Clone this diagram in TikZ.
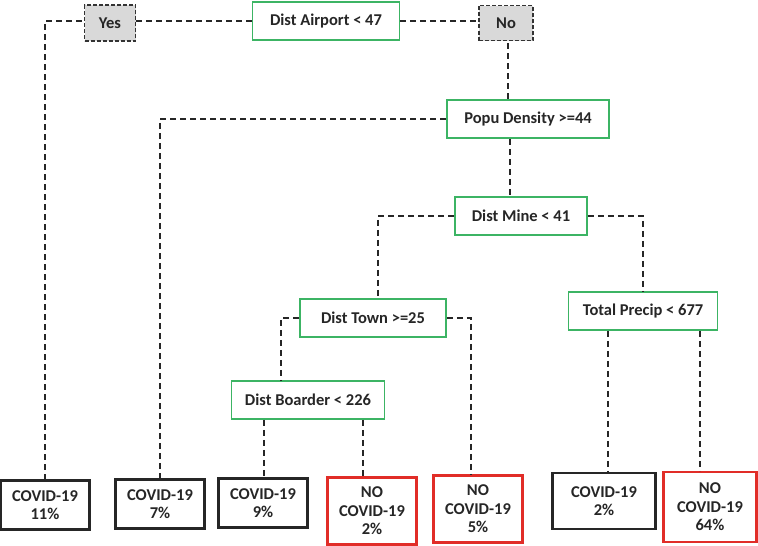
\documentclass[tikz,border=0pt]{standalone}
\usepackage{fontspec}
\setmainfont{Carlito}
\usetikzlibrary{calc}
\definecolor{tgreen}{RGB}{60,180,100}
\definecolor{tred}{RGB}{225,45,40}
\definecolor{tgray}{RGB}{217,217,217}
\tikzset{
  every node/.style={font=\fontsize{16.5}{18.5}\selectfont\bfseries, text=black!85, inner sep=0pt, align=center},
  cond/.style={draw=tgreen, line width=1.8pt, fill=white, minimum height=38pt},
  ansbox/.style={draw=black!80, dash pattern=on 4pt off 2pt, line width=1.3pt, fill=tgray, minimum width=51pt, minimum height=36pt},
  leafyes/.style={draw=black!85, line width=2.6pt, fill=white, minimum width=89pt, minimum height=49pt},
  leafno/.style={draw=tred, line width=2.2pt, fill=white, minimum width=89pt, minimum height=67pt},
  conn/.style={draw=black!85, line width=1.3pt, dash pattern=on 6pt off 4pt},
}
\begin{document}
\begin{tikzpicture}[x=1pt,y=-1pt]
\useasboundingbox (0,0) rectangle (758,546);
% condition nodes
\node[cond, minimum width=147pt] (air) at (326,21) {Dist Airport < 47};
\node[cond, minimum width=162pt] (pop) at (528,119) {Popu Density >=44};
\node[cond, minimum width=132pt] (mine) at (521,216) {Dist Mine < 41};
\node[cond, minimum width=146pt] (town) at (373,318) {Dist Town >=25};
\node[cond, minimum width=149pt] (prec) at (643,311) {Total Precip < 677};
\node[cond, minimum width=153pt] (bo) at (308,400) {Dist Boarder < 226};
% leaves
\node[leafyes] (l1) at (45,505) {COVID-19\\11\%};
\node[leafyes] (l2) at (160,504) {COVID-19\\7\%};
\node[leafyes] (l3) at (263,503) {COVID-19\\9\%};
\node[leafno] (l4) at (372,511) {NO\\COVID-19\\2\%};
\node[leafno] (l5) at (478,509) {NO\\COVID-19\\5\%};
\node[leafyes, minimum width=103pt, minimum height=56pt] (l6) at (604,501) {COVID-19\\2\%};
\node[leafno, minimum width=93pt, minimum height=70pt] (l7) at (710,507) {NO\\COVID-19\\64\%};
% connector anchor points
\coordinate (c1) at ($(pop.south)+(-18,0)$);
\coordinate (c2) at ($(prec.south)+(-35,0)$);
\coordinate (c3) at ($(prec.south)+(57,0)$);
\coordinate (c4) at ($(bo.south)+(-44,0)$);
\coordinate (c5) at ($(bo.south)+(55,0)$);
\coordinate (cno) at (508,21);
\coordinate (cmine) at (378,0);
\coordinate (ctown) at (281,0);
\coordinate (ctr) at (471,0);
% connectors
\draw[conn] (air.west) -| (l1.north);
\draw[conn] (air.east) -- (cno) -- (cno |- pop.north);
\draw[conn] (pop.west) -| (l2.north);
\draw[conn] (c1) -- (c1 |- mine.north);
\draw[conn] (mine.west) -| (cmine |- town.north);
\draw[conn] (mine.east) -| (prec.north);
\draw[conn] (town.west) -| (ctown |- bo.north);
\draw[conn] (town.east) -| (ctr |- l5.north);
\draw[conn] (c2) -- (c2 |- l6.north);
\draw[conn] (c3) -- (c3 |- l7.north);
\draw[conn] (c4) -- (c4 |- l3.north);
\draw[conn] (c5) -- (c5 |- l4.north);
% answer boxes on top of lines
\node[ansbox] (yes) at (110,23) {Yes};
\node[ansbox, minimum width=54pt, minimum height=35pt] (no) at (506,23) {No};
\end{tikzpicture}
\end{document}
